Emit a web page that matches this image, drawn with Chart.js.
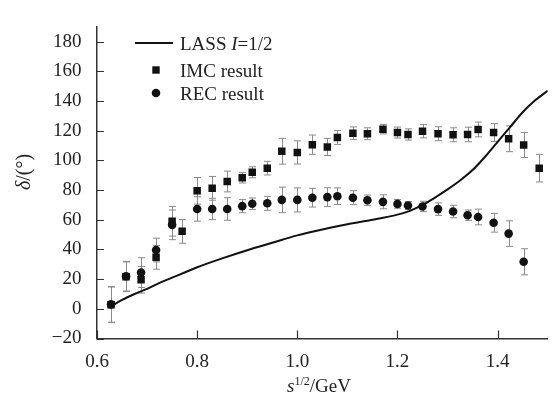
<!DOCTYPE html>
<html><head><meta charset="utf-8">
<script src="https://cdn.jsdelivr.net/npm/chart.js@4/dist/chart.umd.min.js"></script>
<style>html,body{margin:0;padding:0;background:#fff}</style>
</head><body>
<canvas id="c" width="553" height="400"></canvas>
<script>
// ---- data ----
const energies = [0.628, 0.658, 0.688, 0.718, 0.750, 0.770, 0.800, 0.830, 0.860, 0.890, 0.910, 0.940, 0.969, 1.000, 1.030, 1.060, 1.080, 1.111, 1.140, 1.171, 1.200, 1.221, 1.250, 1.281, 1.311, 1.340, 1.361, 1.392, 1.422, 1.452, 1.483];
const imcPhase = [2.7, 21.6, 19.6, 34.7, 59.0, 52.2, 79.5, 81.2, 85.8, 88.3, 92.0, 94.8, 106.2, 105.4, 110.6, 109.1, 115.5, 118.4, 118.0, 121.1, 118.8, 117.5, 119.7, 118.0, 117.3, 117.5, 120.9, 118.8, 114.6, 110.4, 94.8];
const imcError = [12, 10, 9, 8, 10, 8, 9, 8, 7, 3.5, 3.7, 4.6, 8.7, 7.8, 6.5, 5.8, 4.7, 4.2, 4.0, 3.2, 3.7, 3.8, 4.5, 4.7, 4.7, 4.9, 5.0, 6.0, 8.7, 8.4, 9.3];
const recPhase = [3.0, 22.0, 24.4, 39.6, 56.6, null, 67.3, 67.3, 67.3, 69.2, 70.8, 71.1, 73.4, 73.4, 74.9, 75.3, 75.9, 74.9, 73.2, 72.1, 70.7, 69.6, 69.0, 67.2, 65.6, 63.1, 61.9, 58.0, 50.7, 31.7, null];
const recError = [12, 10, 10, 8, 10, null, 8.2, 7.2, 7.6, 4.4, 3.9, 4.7, 8.6, 8.1, 6.3, 6.3, 5.6, 4.7, 3.5, 4.7, 2.9, 2.6, 3.5, 4.2, 4.2, 3.5, 5.3, 6.3, 8.6, 8.8, null];
const lassEnergy = [0.627, 0.650, 0.675, 0.700, 0.725, 0.750, 0.775, 0.800, 0.850, 0.900, 0.950, 1.000, 1.050, 1.100, 1.150, 1.200, 1.225, 1.250, 1.275, 1.300, 1.325, 1.350, 1.375, 1.400, 1.425, 1.450, 1.475, 1.500];
const lassPhase = [1.5, 6.0, 10.0, 13.5, 17.5, 21.0, 24.5, 28.0, 34.0, 39.5, 44.5, 49.5, 53.5, 57.0, 60.0, 63.5, 66.0, 70.0, 75.0, 80.5, 86.5, 93.5, 102.5, 112.5, 122.5, 132.5, 140.5, 147.0];
const xTickValues = [0.6, 0.8, 1.0, 1.2, 1.4];
const yTickValues = [-20, 0, 20, 40, 60, 80, 100, 120, 140, 160, 180];
const seriesNames = ['LASS I=1/2', 'IMC result', 'REC result'];

const SERIF = "'Liberation Serif', 'Times New Roman', serif";
const INK = '#222';

function pts(xs, ys) { return xs.map((x, i) => ({ x: x, y: ys[i] })); }

const errorBars = {
  id: 'errorBars',
  beforeDatasetsDraw(chart) {
    const ctx = chart.ctx, xs = chart.scales.x, ys = chart.scales.y;
    ctx.save();
    ctx.strokeStyle = '#8a8a8a';
    ctx.lineWidth = 1;
    chart.data.datasets.forEach(ds => {
      if (!ds.errors) return;
      ds.data.forEach((p, i) => {
        const e = ds.errors[i];
        if (p.y == null || e == null) return;
        const px = Math.round(xs.getPixelForValue(p.x)) + 0.5;
        const top = ys.getPixelForValue(p.y + e), bot = ys.getPixelForValue(p.y - e);
        ctx.beginPath();
        ctx.moveTo(px, top); ctx.lineTo(px, bot);
        ctx.moveTo(px - 3.5, top); ctx.lineTo(px + 3.5, top);
        ctx.moveTo(px - 3.5, bot); ctx.lineTo(px + 3.5, bot);
        ctx.stroke();
      });
    });
    ctx.restore();
  }
};

function drawRich(ctx, parts, x, y, align) {
  let total = 0;
  parts.forEach(p => { ctx.font = p.font; p.w = ctx.measureText(p.t).width; total += p.w; });
  let cx = align === 'center' ? x - total / 2 : x;
  parts.forEach(p => { ctx.font = p.font; ctx.fillText(p.t, cx, y + (p.dy || 0)); cx += p.w; });
}

const decorations = {
  id: 'decorations',
  afterDraw(chart) {
    const ctx = chart.ctx, xs = chart.scales.x, ys = chart.scales.y, a = chart.chartArea;
    ctx.save();
    // inward tick marks
    ctx.strokeStyle = '#333'; ctx.lineWidth = 1.2;
    ctx.beginPath();
    yTickValues.forEach(v => { const py = Math.round(ys.getPixelForValue(v)) + 0.5; ctx.moveTo(a.left, py); ctx.lineTo(a.left + 7, py); });
    xTickValues.forEach(v => { const px = Math.round(xs.getPixelForValue(v)) + 0.5; ctx.moveTo(px, a.bottom); ctx.lineTo(px, a.bottom - 8); });
    ctx.stroke();

    ctx.fillStyle = INK;
    ctx.textBaseline = 'alphabetic';
    // x title
    drawRich(ctx, [
      { t: 's', font: 'italic 19px ' + SERIF },
      { t: '1/2', font: '12px ' + SERIF, dy: -7 },
      { t: '/GeV', font: '19px ' + SERIF }
    ], 319, 392, 'center');
    // y title
    ctx.save();
    ctx.translate(30, 172);
    ctx.rotate(-Math.PI / 2);
    drawRich(ctx, [
      { t: 'δ', font: 'italic 20px ' + SERIF },
      { t: '/(°)', font: '20px ' + SERIF }
    ], 0, 0, 'center');
    ctx.restore();

    // legend
    ctx.strokeStyle = '#111'; ctx.lineWidth = 2;
    ctx.beginPath(); ctx.moveTo(135, 43); ctx.lineTo(173, 43); ctx.stroke();
    const nm = seriesNames[0].split('I');
    drawRich(ctx, [
      { t: nm[0], font: '19px ' + SERIF },
      { t: 'I', font: 'italic 19px ' + SERIF },
      { t: nm[1], font: '19px ' + SERIF }
    ], 180, 49.5, 'left');
    ctx.fillStyle = '#111';
    ctx.fillRect(152.3, 66.3, 7.4, 7.4);
    ctx.beginPath(); ctx.arc(156, 93, 4.3, 0, Math.PI * 2); ctx.fill();
    ctx.fillStyle = INK;
    ctx.font = '19px ' + SERIF;
    ctx.fillText(seriesNames[1], 180, 76.5);
    ctx.fillText(seriesNames[2], 180, 99.5);
    ctx.restore();
  }
};

new Chart(document.getElementById('c'), {
  type: 'scatter',
  data: {
    datasets: [
      { label: seriesNames[0], data: pts(lassEnergy, lassPhase), showLine: true, borderColor: '#111', borderWidth: 2, pointRadius: 0, cubicInterpolationMode: 'monotone', order: 3 },
      { label: seriesNames[1], data: pts(energies, imcPhase), errors: imcError, pointStyle: 'rect', pointRadius: 5.3, backgroundColor: '#111', borderColor: '#111', borderWidth: 0, order: 1 },
      { label: seriesNames[2], data: pts(energies, recPhase), errors: recError, pointStyle: 'circle', pointRadius: 4.3, backgroundColor: '#111', borderColor: '#111', borderWidth: 0, order: 2 }
    ]
  },
  options: {
    responsive: false,
    animation: false,
    layout: { padding: { top: 6, right: 3, left: 0, bottom: 0 } },
    plugins: { legend: { display: false }, tooltip: { enabled: false } },
    scales: {
      x: {
        type: 'linear', min: 0.6, max: 1.5,
        afterBuildTicks: s => { s.ticks = xTickValues.map(v => ({ value: v })); },
        afterFit: s => { s.height = 61.5; },
        grid: { display: false, drawTicks: false },
        border: { display: true, color: '#333', width: 1.5 },
        ticks: { padding: 12, color: INK, font: { family: SERIF, size: 19 }, callback: v => Number(v).toFixed(1), maxRotation: 0, autoSkip: false }
      },
      y: {
        type: 'linear', min: -20, max: 190,
        afterBuildTicks: s => { s.ticks = yTickValues.map(v => ({ value: v })); },
        afterFit: s => { s.width = 97; },
        grid: { display: false, drawTicks: false },
        border: { display: true, color: '#333', width: 1.5 },
        ticks: { padding: 15.5, color: INK, font: { family: SERIF, size: 19 }, callback: v => (v < 0 ? '\u2212' + Math.abs(v) : String(v)), autoSkip: false }
      }
    }
  },
  plugins: [errorBars, decorations]
});
</script>
</body></html>
